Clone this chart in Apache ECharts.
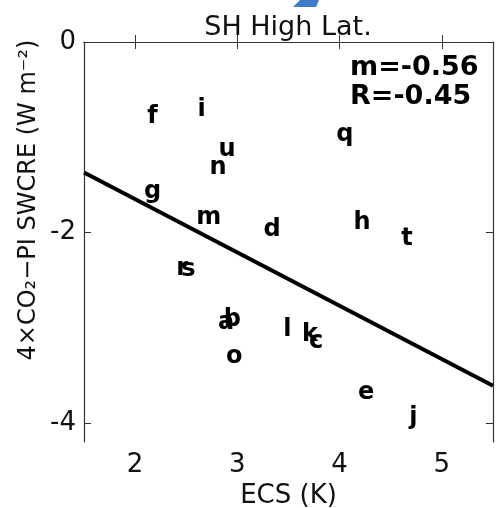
<!DOCTYPE html>
<html>
<head>
<meta charset="utf-8">
<script src="https://cdn.jsdelivr.net/npm/echarts@6/dist/echarts.min.js"></script>
<style>html,body{margin:0;padding:0;background:#fff;}#c{width:496px;height:508px;}</style>
</head>
<body>
<div id="c"></div>
<script>
const modelLabels = ['a','b','c','d','e','f','g','h','i','j','k','l','m','n','o','q','r','s','t','u'];
const ecsValues   = [2.89,2.95,3.77,3.34,4.26,2.17,2.17,4.22,2.65,4.72,3.71,3.49,2.72,2.81,2.97,4.05,2.46,2.52,4.66,2.90];
const swcreValues = [-2.95,-2.92,-3.15,-1.97,-3.68,-0.78,-1.57,-1.90,-0.71,-3.95,-3.07,-3.02,-1.85,-1.32,-3.30,-0.97,-2.38,-2.39,-2.07,-1.13];
const slope = -0.56;
const intercept = -0.53;
const corrR = -0.45;
const xTicks = [2,3,4,5];
const yTicks = [0,-2,-4];
const xMin = 1.5, xMax = 5.5, yMin = -4.2, yMax = 0;

const pts = modelLabels.map((l,i)=>[ecsValues[i], swcreValues[i], l]);
const fitLine = [xMin, xMax].map(x => [x, intercept + slope*x]);

const chart = echarts.init(document.getElementById('c'), null, {renderer:'canvas'});
const FONT = 'DejaVu Sans';
const axisColor = '#333';
const baseX = {
  type:'value', min:xMin, max:xMax,
  axisLine:{show:true, lineStyle:{color:axisColor, width:1.2}},
  splitLine:{show:false},
};
const baseY = {
  type:'value', min:yMin, max:yMax,
  axisLine:{show:true, lineStyle:{color:axisColor, width:1.2}},
  splitLine:{show:false},
};
chart.setOption({
  animation:false,
  textStyle:{fontFamily:FONT},
  grid:{left:84, right:3, top:42, bottom:66, containLabel:false, outerBoundsMode:'none'},
  xAxis:[
    Object.assign({}, baseX, {
      position:'bottom',
      name:'ECS (K)', nameLocation:'middle', nameGap:35,
      nameTextStyle:{fontSize:26, color:'#111', fontFamily:FONT},
      axisTick:{show:true, inside:true, length:7, customValues:xTicks, lineStyle:{color:axisColor}},
      axisLabel:{show:true, customValues:xTicks, fontSize:26, color:'#111', margin:10, fontFamily:FONT}
    }),
    Object.assign({}, baseX, {
      position:'top',
      axisTick:{show:true, inside:true, length:7, customValues:xTicks, lineStyle:{color:axisColor}},
      axisLabel:{show:false}
    })
  ],
  yAxis:[
    Object.assign({}, baseY, {
      position:'left',
      axisTick:{show:true, inside:true, length:7, customValues:yTicks, lineStyle:{color:axisColor}},
      axisLabel:{show:true, customValues:yTicks, fontSize:26, color:'#111', margin:8, fontFamily:FONT}
    }),
    Object.assign({}, baseY, {
      position:'right',
      axisTick:{show:true, inside:true, length:7, customValues:yTicks, lineStyle:{color:axisColor}},
      axisLabel:{show:false}
    })
  ],
  series:[
    {
      type:'line', data:fitLine, xAxisIndex:0, yAxisIndex:0,
      symbol:'none', lineStyle:{color:'#000', width:4}, silent:true
    },
    {
      type:'scatter', data:pts, xAxisIndex:0, yAxisIndex:0,
      symbolSize:0, itemStyle:{opacity:1},
      label:{show:true, position:'inside', formatter:p=>p.value[2],
        fontSize:24, fontWeight:'bold', color:'#000', fontFamily:FONT}
    }
  ],
  graphic:[
    {type:'text', style:{text:'SH High Lat.', x:288, y:28, textAlign:'center', textVerticalAlign:'middle', font:'27px "DejaVu Sans"', fill:'#111'}, z:100},
    {type:'text', style:{text:'m='+slope.toFixed(2), x:350, y:68, textAlign:'left', textVerticalAlign:'middle', font:'bold 27px "DejaVu Sans"', fill:'#000'}, z:100},
    {type:'text', style:{text:'R='+corrR.toFixed(2), x:350, y:97, textAlign:'left', textVerticalAlign:'middle', font:'bold 27px "DejaVu Sans"', fill:'#000'}, z:100},
    {type:'text', x:29, y:200, rotation:Math.PI/2, style:{text:'4×CO₂−PI SWCRE (W m⁻²)', x:0, y:0, textAlign:'center', textVerticalAlign:'middle', font:'24px "DejaVu Sans"', fill:'#111'}, z:100},
    {type:'polygon', shape:{points:[[300,0],[319,0],[316,7],[293,7]]}, style:{fill:'#3f7cc8'}, z:100}
  ]
});
</script>
</body>
</html>
